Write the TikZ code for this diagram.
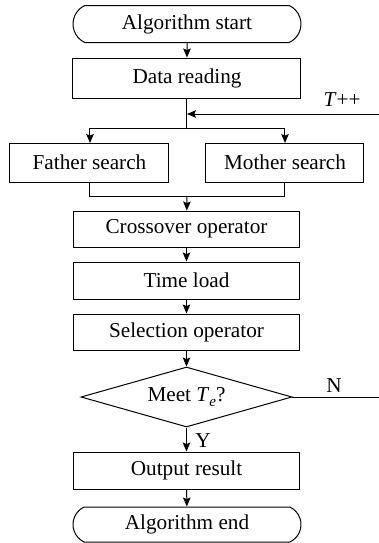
\documentclass[tikz,border=0pt]{standalone}
\usepackage{fontspec}
\setmainfont{Liberation Serif}
\usetikzlibrary{shapes.geometric,shapes.misc,arrows.meta}
\begin{document}
\begin{tikzpicture}[x=0.5pt,y=-0.5pt,
  every node/.style={font=\fontsize{10.6}{12}\selectfont},
  box/.style={draw,line width=0.5pt,rectangle,inner sep=0pt,minimum width=113pt,minimum height=18.5pt},
  term/.style={draw,line width=0.5pt,rounded rectangle,rounded rectangle arc length=130,inner sep=0pt,minimum width=114pt,minimum height=18.5pt},
  dec/.style={draw,line width=0.5pt,diamond,aspect=3.5,inner sep=0pt,minimum width=105.5pt,minimum height=30pt},
  lbl/.style={inner sep=0pt},
  conn/.style={line width=0.5pt},
  arr/.style={conn,-{Stealth[length=4.5pt,width=3.8pt,inset=0.8pt]}}]
\useasboundingbox (0,0) rectangle (379,543);
\node[term] (start) at (187,24) {Algorithm start};
\node[box,minimum width=114pt,minimum height=20pt] (read) at (187,78) {Data reading};
\node[box,minimum width=79.5pt,minimum height=19.5pt] (father) at (89.5,162.5) {Father search};
\node[box,minimum width=79pt,minimum height=19.5pt] (mother) at (285,162.5) {Mother search};
\node[box,minimum height=18pt] (cross) at (186.5,229) {Crossover operator};
\node[box] (time) at (186.5,280.5) {Time load};
\node[box,minimum height=18pt] (sel) at (186.5,332) {Selection operator};
\node[dec] (meet) at (186.5,397) {Meet \textit{T}\raisebox{-0.45ex}{\fontsize{7.5}{8}\selectfont\textit{e}}?};
\node[box] (out) at (186.5,470.5) {Output result};
\node[term,minimum height=17.5pt] (end) at (187,524.5) {Algorithm end};
\coordinate (split) at (187,128);
\coordinate (join) at (187,196);
\coordinate (loopin) at (379,114);
\coordinate (loopout) at (379,397);
\node[lbl] (tpp) at (342,100) {\textit{T}++};
\node[lbl] (nlbl) at (334,386) {N};
\node[lbl] (ylbl) at (203,441) {Y};
\draw[arr] (start) -- (read);
\draw[conn] (read.south) -- (split);
\draw[arr] (loopin) -- (187,114);
\draw[conn] (father.north |- split) -- (mother.north |- split);
\draw[arr] (90,128) -- (90,143);
\draw[arr] (285,128) -- (285,143);
\draw[conn] (90,182) -- (90,196) -- (285,196) -- (285,182);
\draw[arr] (join) -- (cross);
\draw[arr] (cross) -- (time);
\draw[arr] (time) -- (sel);
\draw[arr] (sel) -- (meet);
\draw[arr] (meet) -- (out);
\draw[arr] (out) -- (end);
\draw[conn] (meet.east) -- (loopout);
\end{tikzpicture}
\end{document}
